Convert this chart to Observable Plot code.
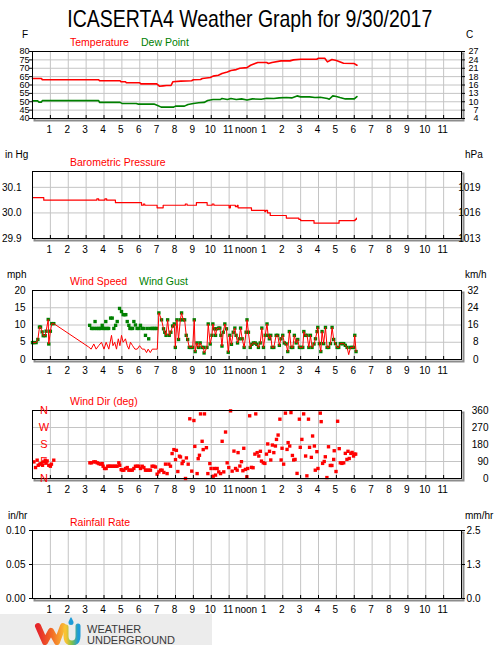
<!DOCTYPE html>
<html><head><meta charset="utf-8">
<script src="https://cdn.jsdelivr.net/npm/d3@7"></script>
<script src="https://cdn.jsdelivr.net/npm/@observablehq/plot@0.6"></script>
<style>
body{margin:0;background:#fff;}
#page{position:relative;width:500px;height:645px;overflow:hidden;font-family:"Liberation Sans",Arial,sans-serif;background:#fff;}
.lbl{position:absolute;white-space:nowrap;line-height:1;}
#title{position:absolute;left:0;top:7px;width:500px;text-align:center;line-height:1;}
#title span{display:inline-block;font-size:24px;color:#000;transform-origin:50% 50%;white-space:nowrap;}
#logo{position:absolute;left:0;top:614px;width:212px;height:31px;background:#ececec;}
</style></head>
<body><div id="page">
<div id="title"><span id="ttext">ICASERTA4 Weather Graph for 9/30/2017</span></div>
<div id="logo"><svg width="212" height="31" viewBox="0 0 212 31">
<defs>
<linearGradient id="wg" x1="0" x2="1" y1="0" y2="0"><stop offset="0" stop-color="#e5262b"/><stop offset="0.55" stop-color="#f26a25"/><stop offset="1" stop-color="#f9b233"/></linearGradient>
<linearGradient id="ug" x1="0" x2="1" y1="0" y2="0"><stop offset="0" stop-color="#f9c332"/><stop offset="0.5" stop-color="#7cc04b"/><stop offset="1" stop-color="#1e9bd7"/></linearGradient>
</defs>
<path d="M38,12 L45,28 L51,17 L57,28 L63,12" fill="none" stroke="url(#wg)" stroke-width="6" stroke-linecap="round" stroke-linejoin="round"/>
<path d="M66,13 L66,22 Q66,29 72,29 Q78,29 78,22 L78,12" fill="none" stroke="url(#ug)" stroke-width="5" stroke-linecap="round"/>
<path d="M71,3 Q68.5,7 68.5,8.5 A2.5,2.5 0 0 0 73.5,8.5 Q73.5,7 71,3 Z" fill="#1e9bd7"/>
<text x="87" y="19" font-family="Liberation Sans, Arial, sans-serif" font-size="11" fill="#3a3a3a">WEATHER</text>
<text x="87" y="30" font-family="Liberation Sans, Arial, sans-serif" font-size="11" fill="#3a3a3a">UNDERGROUND</text>
</svg></div>
</div>
<script>
// ---------- shared axis data ----------
const hourTicks = [1,2,3,4,5,6,7,8,9,10,11,12,13,14,15,16,17,18,19,20,21,22,23];
const hourLabels = ["1","2","3","4","5","6","7","8","9","10","11","noon","1","2","3","4","5","6","7","8","9","10","11"];

// ---------- temperature / dew point (F) ----------
const tempTicks = [40,45,50,55,60,65,70,75,80];
const tempLeftLabels = ["40","45","50","55","60","65","70","75","80"];
const tempRightLabels = ["4","7","10","13","16","18","21","24","27"];
const tempHours = [0,0.5,0.55,3.7,3.75,4.9,4.95,5.2,5.25,6.0,6.05,6.95,7.1,7.3,7.5,7.75,7.85,8.3,8.9,9.0,9.4,9.5,9.95,10.1,10.4,10.6,10.9,11.1,11.4,11.6,12.0,12.2,12.6,13.1,13.2,13.4,13.9,14.4,14.6,15.0,15.9,16.0,16.35,16.5,16.75,17.0,17.4,18.0,18.15];
const tempF = [63.9,63.9,63.1,63.1,62.5,62.5,61.9,61.9,61.3,61.3,60.7,60.7,59.3,59.5,59.7,59.7,61.9,62.3,62.5,63.1,63.3,63.9,64.5,65.3,65.8,66.9,67.8,68.7,69.2,70.0,70.4,71.8,73.4,73.4,72.8,73.4,74.4,74.4,75.0,75.4,75.4,76,76,73.8,75.2,74.6,73.0,72.8,71.8];
const dewHours = [0,0.3,0.35,0.5,0.55,3.7,3.75,4.9,5.0,5.8,5.9,6.8,7.0,7.2,7.9,8.0,8.5,8.7,9.0,9.3,9.6,9.8,10.1,10.5,10.6,10.9,11.1,11.4,11.7,12.0,12.3,12.8,13.1,13.5,13.8,14.2,14.5,14.8,15.0,15.5,15.8,16.1,16.5,16.6,16.8,17.0,17.2,17.5,18.0,18.15];
const dewF = [50.5,50.5,49.8,49.8,50.7,50.7,49.6,49.6,49.0,49.0,48.6,48.6,47.8,46.8,46.8,47.4,47.4,48.4,49.0,49.4,49.6,50.7,51.3,51.3,51.9,51.3,51.9,51.3,51.7,51.0,51.7,51.5,52.1,51.9,52.3,52.5,52.3,53.5,52.9,52.9,52.5,52.7,51.9,51.5,53.5,53.1,52.5,51.7,51.7,53.1];

// ---------- barometric pressure (inHg) ----------
const presTicks = [29.9,30.0,30.1];
const presLeftLabels = ["29.9","30.0","30.1"];
const presRightLabels = ["1013","1016","1019"];
const presHours = [0,0.63,3.6,3.7,4.05,4.15,4.64,6.1,6.2,6.28,6.97,7.31,8.55,8.65,9.17,9.77,10.05,10.15,11.0,11.07,11.35,11.45,11.5,12.25,13.0,13.05,13.15,13.3,14.2,14.9,15.0,15.75,17.15,18.05,18.12];
const presInHg = [30.06,30.05,30.055,30.05,30.055,30.05,30.04,30.03,30.035,30.03,30.02,30.03,30.035,30.03,30.04,30.03,30.035,30.03,30.02,30.03,30.025,30.03,30.02,30.01,30.005,30.01,30.0,29.99,29.98,29.975,29.97,29.96,29.97,29.975,29.98];

// ---------- wind speed / gust (mph) ----------
const windTicks = [0,5,10,15,20];
const windLeftLabels = ["0","5","10","15","20"];
const windRightLabels = ["0","8","16","24","32"];
// points where speed and gust coincide (line + square)
const earlyHours = [0.0,0.07,0.2,0.3,0.39,0.45,0.54,0.6,0.71,0.76,0.88,0.91,1.0,1.08,1.19];
const earlyMph = [4.9,4.9,4.9,5.8,9.4,9.4,8,6.9,6.9,8.2,11.6,4.5,8.2,10.4,10.4];
const lateHours = [7.07,7.22,7.33,7.4,7.47,7.56,7.65,7.74,7.84,7.93,7.99,8.08,8.17,8.27,8.34,8.43,8.51,8.6,8.68,8.77,8.86,8.96,9.05,9.1,9.2,9.29,9.38,9.48,9.57,9.6,9.76,9.83,9.94,10.04,10.09,10.17,10.24,10.31,10.41,10.48,10.54,10.6,10.67,10.76,10.85,10.95,11.04,11.13,11.23,11.32,11.39,11.47,11.56,11.64,11.73,11.84,11.95,12.0,12.08,12.18,12.27,12.36,12.46,12.55,12.64,12.74,12.83,12.92,13.02,13.12,13.18,13.25,13.33,13.4,13.5,13.63,13.72,13.81,13.9,14.0,14.09,14.19,14.28,14.37,14.47,14.56,14.65,14.75,14.84,14.93,15.03,15.12,15.18,15.27,15.36,15.46,15.55,15.64,15.75,15.83,15.92,15.96,16.05,16.13,16.2,16.29,16.39,16.48,16.57,16.67,16.76,16.85,16.95,17.04,17.13,17.22,17.32,17.41,17.5,17.6,17.79,17.88,17.97,18.03,18.1];
const lateMph = [13.5,11.5,8.9,7.9,7,11.5,7,7.9,9.7,10.3,3.5,11.5,5.8,11.5,13.5,11.5,11.5,7,5.8,3.5,3.5,3.5,11.5,2.3,4.8,3.5,4.8,3.5,3.5,1.9,3.5,10.3,4.5,7,10.3,8.9,7,8.9,9.1,9.1,7,3.9,7.9,10.3,8.9,2.1,7,4.4,7.9,9.1,7,4.8,6,9.1,6,3.5,7.9,11.5,7.9,3.5,4.4,4.8,4.8,4.4,3.5,4.8,9.1,3.5,7,10.3,7,6,7,3.5,3.5,7,7,4.1,6,7,4.8,4.5,2.3,8.1,3.5,3.5,7,4.8,5.8,3.5,3.5,3.5,8.1,7,7,3.5,7,3.5,4.5,6,8.1,9.3,4.6,2.3,8.1,4.6,9.3,3.5,3.5,4.6,9.3,5.8,4.6,3.5,3.5,4.6,4.6,4.6,4.1,3.5,3.5,3.5,3.5,7,2.3];
// speed-only points (red line)
const speedOnlyHours = [3.15,3.28,3.43,3.56,3.7,3.86,4.0,4.12,4.27,4.42,4.5,4.6,4.7,4.8,4.89,4.98,5.07,5.2,5.3,5.39,5.48,5.6,5.73,5.86,5.99,6.14,6.27,6.38,6.47,6.59,6.7,6.8,6.9,6.98,17.69];
const speedOnlyMph = [3.6,3,4.5,3,4,5,3,5,3,7,4,5,3,6,4,7,5,6,4,3,5,4,3,3,4,3,3,2,3,2,3,3,3,3,1.4];
// gust-only points (green squares)
const gustOnlyHours = [3.2,3.3,3.38,3.46,3.5,3.58,3.66,3.74,3.82,3.9,3.98,4.06,4.1,4.18,4.26,4.37,4.46,4.55,4.65,4.74,4.87,4.98,5.07,5.15,5.22,5.3,5.39,5.45,5.52,5.6,5.67,5.76,5.85,5.95,6.04,6.13,6.23,6.32,6.42,6.5,6.6,6.7,6.78,6.86,6.94];
const gustOnlyMph = [9.9,9,9,9,11,9,9,9,9,9.9,9,9,11,9,9,12,12,9,9.9,11,14.8,13.9,13,13,13,11,9.9,9,9,9,11,10,9,9,9.9,9,9,7,9,6,9,9,9,9,9];

// ---------- wind direction (deg) ----------
const dirTicks = [0,90,180,270,360];
const dirLeftLabels = ["N","E","S","W","N"];
const dirRightLabels = ["0","90","180","270","360"];
const dirHours = [0.08,0.17,0.26,0.32,0.41,0.48,0.56,0.63,0.71,0.76,0.82,0.91,1.0,1.06,1.19,
3.21,3.3,3.43,3.52,3.62,3.71,3.8,3.9,3.95,4.03,4.12,4.21,4.29,4.36,4.46,4.55,4.64,4.73,4.83,4.88,4.96,5.03,5.11,5.2,5.3,5.39,5.48,5.58,5.67,5.76,5.86,5.95,6.04,6.14,6.23,6.32,6.41,6.51,6.6,6.69,6.79,6.88,6.97,7.07,7.16,7.25,7.35,7.44,7.53,7.63,7.72,7.81,7.91,8.0,8.05,8.13,8.22,8.28,8.37,8.43,8.56,8.61,8.71,8.8,8.91,9.03,9.08,9.21,9.27,9.34,9.4,9.49,9.55,9.62,9.73,9.81,9.92,9.99,10.11,10.18,10.24,10.33,10.42,10.52,10.61,10.7,10.8,10.89,10.98,
11.08,11.17,11.27,11.36,11.45,11.5,11.6,11.69,11.77,11.82,11.91,11.99,12.04,12.15,12.25,12.34,12.44,12.49,12.57,12.66,12.75,12.81,12.91,13.0,13.09,13.16,13.26,13.33,13.42,13.5,13.59,13.65,13.74,13.84,13.91,13.96,14.05,14.15,14.24,14.3,14.39,14.46,14.54,14.61,14.69,14.8,14.93,14.98,15.07,15.17,15.28,15.35,15.44,15.5,15.6,15.67,15.77,15.82,15.91,15.97,16.1,16.15,16.23,16.32,16.38,16.47,16.56,16.66,16.75,16.85,16.88,16.98,17.07,17.16,17.22,17.31,17.41,17.5,17.59,17.65,17.72,17.81,17.88,17.96,18.01,18.08];
const dirDeg = [88,58,97,70,76,79,70,88,97,83,93,70,65,76,97,
83,83,88,88,83,79,76,79,65,53,53,65,65,65,65,65,65,65,83,70,47,44,44,53,58,44,44,44,53,65,65,65,53,65,58,44,44,44,44,65,65,61,23,35,44,44,32,76,26,76,65,132,153,100,149,37,118,114,79,91,0,109,76,316,39,307,170,26,105,123,342,197,153,342,163,26,79,53,12,53,18,53,35,26,197,35,246,83,58,
358,39,145,53,44,137,66,89,41,160,48,9,53,332,59,57,129,342,137,119,144,92,83,80,129,183,144,98,177,137,172,207,230,314,98,160,76,346,154,190,172,349,122,98,101,27,314,165,207,342,119,14,314,165,112,225,172,44,142,53,346,301,80,90,115,5,168,69,69,101,147,37,303,158,83,80,83,133,101,144,106,133,138,119,129,129];

// ---------- rainfall rate (in/hr) ----------
const rainTicks = [0,0.05,0.1];
const rainLeftLabels = ["0.00","0.05","0.10"];
const rainRightLabels = ["0.0","1.3","2.5"];

// ---------- build rows ----------
const rows = (hs, vs) => hs.map((h, i) => ({h, v: vs[i]}));
const tempRows = rows(tempHours, tempF);
const dewRows = rows(dewHours, dewF);
const presRows = rows(presHours, presInHg);
const speedRows = [...rows(earlyHours, earlyMph), ...rows(speedOnlyHours, speedOnlyMph), ...rows(lateHours, lateMph)].sort((a, b) => a.h - b.h);
const gustRows = [...rows(earlyHours, earlyMph), ...rows(gustOnlyHours, gustOnlyMph), ...rows(lateHours, lateMph)];
const dirRows = rows(dirHours, dirDeg);

const page = document.getElementById("page");
const RED = "#ff0000", GREEN = "#008000";
const tickFont = '"Liberation Sans Narrow","Liberation Sans",Arial,sans-serif';

function label(text, x, baseline, color, size) {
  const d = document.createElement("div");
  d.className = "lbl";
  d.textContent = text;
  d.style.left = x + "px";
  d.style.top = (baseline - 0.8465 * size) + "px";
  d.style.fontSize = size + "px";
  d.style.color = color;
  page.appendChild(d);
}

function panel(o) {
  const mt = 10, mb = 22;
  const fh = o.frameBottom - o.frameTop;
  const leftMap = new Map(o.ticks.map((t, i) => [t, o.leftLabels[i]]));
  const rightMap = new Map(o.ticks.map((t, i) => [t, o.rightLabels[i]]));
  const hourMap = new Map(hourTicks.map((t, i) => [t, hourLabels[i]]));
  const chart = Plot.plot({
    width: 500, height: fh + mt + mb,
    marginLeft: 32, marginRight: 39, marginTop: mt, marginBottom: mb,
    style: {fontFamily: tickFont, fontSize: "10px", background: "transparent", overflow: "visible", color: "black"},
    x: {domain: [0, 24], label: null},
    y: {domain: o.domain, label: null},
    marks: [
      Plot.frame({stroke: "#8c8c8c", strokeWidth: 2, dx: 2, dy: 2}),
      Plot.frame({fill: "white"}),
      Plot.gridX(hourTicks, {stroke: "#c4c4c4", strokeOpacity: 1}),
      Plot.gridY(o.ticks, {stroke: "#c4c4c4", strokeOpacity: 1}),
      ...o.marks,
      Plot.tickX(hourTicks, {x: d => d, insetTop: fh - 3, stroke: "black"}),
      Plot.frame({stroke: "black"}),
      Plot.axisX(hourTicks, {tickSize: 0, tickPadding: 7, dx: -1, tickFormat: d => hourMap.get(d), label: null}),
      Plot.axisY(o.ticks, {anchor: "left", tickSize: o.leftTick ?? 0, tickPadding: o.leftPad, tickFormat: d => leftMap.get(d), fill: o.leftColor || "black", textAnchor: o.leftAnchor || "end", fontSize: o.leftFont || o.axisFont || 10, label: null}),
      Plot.axisY(o.ticks, {anchor: "right", tickSize: o.rightTick ?? 0, tickPadding: o.rightPad, tickFormat: d => rightMap.get(d), textAnchor: "end", fontSize: o.axisFont || 10, label: null})
    ]
  });
  chart.style.position = "absolute";
  chart.style.left = "0px";
  chart.style.top = (o.frameTop - mt) + "px";
  page.appendChild(chart);
}

// Temperature panel
panel({frameTop: 51, frameBottom: 118, domain: [40, 80], ticks: tempTicks, axisFont: 9,
  leftLabels: tempLeftLabels, rightLabels: tempRightLabels, leftTick: 3, leftPad: 0, rightTick: 3, rightPad: 14,
  marks: [
    Plot.line(dewRows, {x: "h", y: "v", stroke: GREEN, strokeWidth: 1.6}),
    Plot.line(tempRows, {x: "h", y: "v", stroke: RED, strokeWidth: 1.6})
  ]});
label("F", 22, 38, "#000", 10);
label("C", 466, 38, "#000", 10);
label("Temperature", 70, 45.5, RED, 10.5);
label("Dew Point", 141, 45.5, GREEN, 10.5);

// Pressure panel
panel({frameTop: 171, frameBottom: 238, domain: [29.9, 30.162], ticks: presTicks,
  leftLabels: presLeftLabels, rightLabels: presRightLabels, leftTick: 0, leftPad: 11, rightTick: 0, rightPad: 19,
  marks: [
    Plot.line(presRows, {x: "h", y: "v", stroke: RED, strokeWidth: 1.2, curve: "step-after"})
  ]});
label("in Hg", 5, 158.5, "#000", 10);
label("hPa", 465, 158.5, "#000", 10);
label("Barometric Pressure", 70, 166, RED, 10.5);

// Wind panel
panel({frameTop: 290, frameBottom: 359, domain: [0, 20], ticks: windTicks,
  leftLabels: windLeftLabels, rightLabels: windRightLabels, leftTick: 0, leftPad: 7, rightTick: 0, rightPad: 17,
  marks: [
    Plot.dot(gustRows, {x: "h", y: "v", symbol: "square", r: 1.9, fill: GREEN, stroke: "none"}),
    Plot.line(speedRows, {x: "h", y: "v", stroke: RED, strokeWidth: 1})
  ]});
label("mph", 7, 278.5, "#000", 10);
label("km/h", 465, 278.5, "#000", 10);
label("Wind Speed", 70, 285, RED, 10.5);
label("Wind Gust", 139, 285, GREEN, 10.5);

// Wind direction panel
panel({frameTop: 410, frameBottom: 478, domain: [0, 360], ticks: dirTicks,
  leftLabels: dirLeftLabels, rightLabels: dirRightLabels, leftTick: 0, leftPad: -11.5, leftAnchor: "middle", leftColor: RED, leftFont: 11,
  rightTick: 0, rightPad: 27,
  marks: [
    Plot.dot(dirRows, {x: "h", y: "v", symbol: "square", r: 1.9, fill: RED, stroke: "none"})
  ]});
label("Wind Dir (deg)", 70, 405, RED, 10.5);

// Rainfall panel
panel({frameTop: 530, frameBottom: 598, domain: [0, 0.1], ticks: rainTicks,
  leftLabels: rainLeftLabels, rightLabels: rainRightLabels, leftTick: 3, leftPad: 4, rightTick: 3, rightPad: 16,
  marks: []});
label("in/hr", 8, 519, "#000", 10);
label("mm/hr", 465, 519, "#000", 10);
label("Rainfall Rate", 70, 525.5, RED, 10.5);

// keep logo above panels
page.appendChild(document.getElementById("logo"));

// fit the title to the reference width
const tt = document.getElementById("ttext");
const w = tt.getBoundingClientRect().width;
tt.style.transform = `scaleX(${365 / w})`;
</script>
</body></html>
